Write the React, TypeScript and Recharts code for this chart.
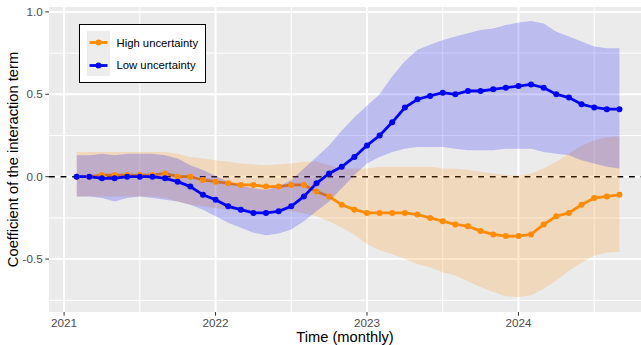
import React from 'react';
import {
  ComposedChart,
  Area,
  Line,
  XAxis,
  YAxis,
  CartesianGrid,
  ReferenceLine,
  Legend,
} from 'recharts';

const FONT = '"Liberation Sans", Arial, Helvetica, sans-serif';

// monthly observations, Feb 2021 .. Sep 2024
const months = [
  '2021-02', '2021-03', '2021-04', '2021-05', '2021-06', '2021-07', '2021-08', '2021-09', '2021-10', '2021-11', '2021-12',
  '2022-01', '2022-02', '2022-03', '2022-04', '2022-05', '2022-06', '2022-07', '2022-08', '2022-09', '2022-10', '2022-11', '2022-12',
  '2023-01', '2023-02', '2023-03', '2023-04', '2023-05', '2023-06', '2023-07', '2023-08', '2023-09', '2023-10', '2023-11', '2023-12',
  '2024-01', '2024-02', '2024-03', '2024-04', '2024-05', '2024-06', '2024-07', '2024-08', '2024-09',
];

// High uncertainty: estimate and confidence band
const highCoef = [
  0.00, 0.00, 0.01, 0.01, 0.01, 0.01, 0.01, 0.02, 0.00, 0.00,
  -0.02, -0.03, -0.04, -0.05, -0.05, -0.06, -0.06, -0.05, -0.05, -0.09,
  -0.12, -0.17, -0.20, -0.22, -0.22, -0.22, -0.22, -0.23, -0.25, -0.27,
  -0.29, -0.30, -0.33, -0.35, -0.36, -0.36, -0.35, -0.29, -0.24, -0.22,
  -0.17, -0.13, -0.12, -0.11,
];
const highLower = [
  -0.12, -0.12, -0.12, -0.12, -0.12, -0.12, -0.12, -0.13, -0.15, -0.17,
  -0.18, -0.19, -0.20, -0.20, -0.21, -0.21, -0.21, -0.21, -0.22, -0.24,
  -0.27, -0.31, -0.35, -0.41, -0.445, -0.47, -0.50, -0.53, -0.55, -0.58,
  -0.60, -0.635, -0.67, -0.70, -0.725, -0.73, -0.72, -0.68, -0.63, -0.57,
  -0.52, -0.48, -0.46, -0.455,
];
const highUpper = [
  0.15, 0.15, 0.15, 0.15, 0.15, 0.15, 0.15, 0.15, 0.14, 0.12,
  0.11, 0.10, 0.09, 0.08, 0.075, 0.07, 0.075, 0.08, 0.09, 0.09,
  0.07, 0.05, 0.05, 0.05, 0.06, 0.06, 0.06, 0.06, 0.06, 0.05,
  0.05, 0.04, 0.03, 0.02, 0.01, 0.005, 0.02, 0.05, 0.09, 0.14,
  0.19, 0.22, 0.24, 0.245,
];

// Low uncertainty: estimate and confidence band
const lowCoef = [
  0.00, 0.00, -0.01, -0.01, 0.00, 0.00, 0.00, -0.01, -0.03, -0.06,
  -0.11, -0.14, -0.18, -0.20, -0.22, -0.22, -0.21, -0.18, -0.12, -0.04,
  0.02, 0.06, 0.12, 0.19, 0.25, 0.33, 0.42, 0.47, 0.49, 0.51,
  0.50, 0.52, 0.52, 0.53, 0.54, 0.55, 0.56, 0.54, 0.50, 0.48,
  0.44, 0.42, 0.41, 0.41,
];
const lowLower = [
  -0.12, -0.12, -0.13, -0.15, -0.13, -0.12, -0.13, -0.14, -0.15, -0.17,
  -0.20, -0.24, -0.28, -0.31, -0.34, -0.355, -0.345, -0.32, -0.27, -0.21,
  -0.15, -0.07, 0.01, 0.08, 0.12, 0.15, 0.17, 0.18, 0.18, 0.18,
  0.17, 0.16, 0.16, 0.16, 0.17, 0.17, 0.17, 0.15, 0.14, 0.13,
  0.10, 0.08, 0.06, 0.05,
];
const lowUpper = [
  0.13, 0.13, 0.14, 0.13, 0.14, 0.14, 0.14, 0.13, 0.11, 0.07,
  0.04, 0.005, -0.03, -0.055, -0.07, -0.08, -0.06, -0.02, 0.05, 0.12,
  0.19, 0.28, 0.36, 0.43, 0.50, 0.61, 0.70, 0.77, 0.80, 0.83,
  0.85, 0.87, 0.89, 0.90, 0.92, 0.935, 0.945, 0.93, 0.88, 0.85,
  0.82, 0.79, 0.78, 0.78,
];

const yearTicks = [0, 12, 24, 36];
const yearLabels = ['2021', '2022', '2023', '2024'];
const midYears = [6, 18, 30, 42];
const yTicks = [-0.5, 0, 0.5, 1.0];
const yMinor = [-0.75, -0.25, 0.25, 0.75];

const legendItems = [
  { name: 'High uncertainty', color: '#FF8C00' },
  { name: 'Low uncertainty', color: '#0000FF' },
];

const monthIndex = (m: string) => {
  const [y, mo] = m.split('-').map(Number);
  return (y - 2021) * 12 + (mo - 1);
};

const data = months.map((m, i) => ({
  t: monthIndex(m),
  high: highCoef[i],
  low: lowCoef[i],
  highBand: [highLower[i], highUpper[i]],
  lowBand: [lowLower[i], lowUpper[i]],
}));

const LegendBox = () => (
  <div
    style={{
      position: 'relative',
      width: 127,
      height: 59,
      boxSizing: 'border-box',
      border: '1px solid #000',
      background: '#fff',
      fontFamily: FONT,
    }}
  >
    <div style={{ position: 'absolute', left: 7, top: 6, width: 23, height: 45, background: '#EDEDED' }} />
    {legendItems.map((item, i) => (
      <div key={item.name} style={{ position: 'absolute', left: 7, top: 6 + i * 22.7, height: 23, display: 'flex', alignItems: 'center' }}>
        <svg width={23} height={23} style={{ display: 'block' }}>
          <line x1={2.5} x2={20.5} y1={11.5} y2={11.5} stroke={item.color} strokeWidth={2.8} />
          <circle cx={11.5} cy={11.5} r={3} fill={item.color} />
        </svg>
        <span style={{ marginLeft: 6.5, fontSize: 11.3, color: '#000', whiteSpace: 'nowrap' }}>{item.name}</span>
      </div>
    ))}
  </div>
);

export default function App() {
  return (
    <div style={{ position: 'absolute', left: 0, top: 0, width: 641, height: 345, background: '#fff' }}>
      <ComposedChart width={641} height={345} data={data} margin={{ top: 7, right: 0, bottom: 0, left: 0 }}>
        <CartesianGrid horizontal={false} vertical={false} fill="#EBEBEB" stroke="none" />
        {midYears.map(x => (
          <ReferenceLine key={`vx${x}`} x={x} stroke="#fff" strokeWidth={1} zIndex={-50} />
        ))}
        {yMinor.map(y => (
          <ReferenceLine key={`hy${y}`} y={y} stroke="#fff" strokeWidth={1} zIndex={-50} />
        ))}
        {yearTicks.map(x => (
          <ReferenceLine key={`vX${x}`} x={x} stroke="#fff" strokeWidth={2} zIndex={-40} />
        ))}
        {yTicks.map(y => (
          <ReferenceLine key={`hY${y}`} y={y} stroke="#fff" strokeWidth={2} zIndex={-40} />
        ))}
        <ReferenceLine y={0} stroke="#000" strokeWidth={1.4} strokeDasharray="5.8 5.8" zIndex={50} />

        <XAxis
          dataKey="t"
          type="number"
          domain={[-1.196, 45.71]}
          allowDataOverflow
          ticks={yearTicks}
          tickFormatter={(v: number) => yearLabels[yearTicks.indexOf(v)]}
          height={33}
          axisLine={false}
          tickLine={{ stroke: '#333333' }}
          tickSize={3.7}
          tickMargin={3}
          tick={{ fill: '#4D4D4D', fontSize: 11.7, fontFamily: FONT }}
          label={{ value: 'Time (monthly)', position: 'insideBottom', offset: 3.5, fill: '#000', fontSize: 14.7, fontFamily: FONT }}
        />
        <YAxis
          type="number"
          domain={[-0.821, 1.0297]}
          allowDataOverflow
          ticks={yTicks}
          tickFormatter={(v: number) => v.toFixed(1)}
          width={49}
          axisLine={false}
          tickLine={{ stroke: '#333333' }}
          tickSize={3.7}
          tickMargin={2.6}
          tick={{ fill: '#4D4D4D', fontSize: 11.7, fontFamily: FONT }}
          label={{
            value: 'Coefficient of the interaction term',
            angle: -90,
            position: 'insideLeft',
            offset: 13,
            fill: '#000',
            fontSize: 14.7,
            fontFamily: FONT,
            style: { textAnchor: 'middle' },
          }}
        />

        <Area
          dataKey="highBand"
          type="linear"
          fill="#FF8C00"
          fillOpacity={0.2}
          stroke="none"
          isAnimationActive={false}
          zIndex={100}
        />
        <Line
          dataKey="high"
          type="linear"
          stroke="#FF8C00"
          strokeWidth={2.8}
          dot={{ r: 3, fill: '#FF8C00', stroke: 'none' }}
          activeDot={false}
          isAnimationActive={false}
          zIndex={110}
        />
        <Area
          dataKey="lowBand"
          type="linear"
          fill="#0000FF"
          fillOpacity={0.2}
          stroke="none"
          isAnimationActive={false}
          zIndex={120}
        />
        <Line
          dataKey="low"
          type="linear"
          stroke="#0000FF"
          strokeWidth={2.8}
          dot={{ r: 3, fill: '#0000FF', stroke: 'none' }}
          activeDot={false}
          isAnimationActive={false}
          zIndex={130}
        />
        <Legend
          layout="horizontal"
          align="center"
          verticalAlign="middle"
          wrapperStyle={{ left: 79, top: 24, width: 127, height: 59 }}
          content={() => <LegendBox />}
        />
      </ComposedChart>
    </div>
  );
}
